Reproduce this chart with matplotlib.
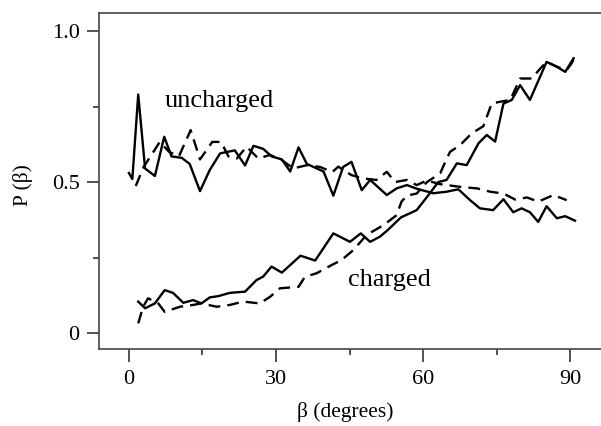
import numpy as np
import matplotlib
matplotlib.use("Agg")
import matplotlib.pyplot as plt
from matplotlib.ticker import MultipleLocator

plt.rcParams['font.family'] = ['Liberation Serif', 'DejaVu Serif']

# uncharged, solid
unc_solid_x = [0.0, 0.7, 1.9, 3.3, 5.3, 7.2, 8.7, 10.8, 12.4, 14.5, 16.5, 18.6, 21.6, 23.7,
               25.4, 27.4, 29.1, 31.2, 32.9, 34.6, 36.3, 39.7, 41.7, 43.7, 45.4, 47.5, 49.2,
               52.6, 54.6, 56.7, 58.7, 60.5, 62.1, 64.8, 67.2, 69.6, 71.6, 74.3, 76.4, 78.4,
               80.1, 81.8, 83.5, 85.2, 87.3, 89.0, 91.0]
unc_solid_y = [0.53, 0.51, 0.79, 0.545, 0.52, 0.65, 0.585, 0.58, 0.56, 0.47, 0.54, 0.595, 0.605,
               0.555, 0.62, 0.61, 0.585, 0.575, 0.535, 0.615, 0.56, 0.535, 0.455, 0.55, 0.567,
               0.473, 0.507, 0.457, 0.479, 0.49, 0.478, 0.47, 0.463, 0.468, 0.476, 0.44, 0.413,
               0.407, 0.443, 0.40, 0.413, 0.40, 0.368, 0.42, 0.38, 0.387, 0.372]

# uncharged, dashed
unc_dash_x = [1.4, 3.0, 5.0, 6.3, 8.2, 10.2, 12.6, 14.5, 17.0, 18.8, 20.3, 22.0, 24.0, 26.4,
              28.8, 31.2, 33.5, 36.3, 39.0, 41.5, 42.7, 45.4, 47.8, 50.5, 52.6, 54.3, 56.7,
              58.7, 60.8, 63.5, 67.6, 71.0, 73.7, 76.4, 78.8, 81.2, 83.5, 86.6, 89.3]
unc_dash_y = [0.487, 0.55, 0.60, 0.633, 0.60, 0.585, 0.672, 0.575, 0.633, 0.633, 0.585, 0.578,
              0.617, 0.578, 0.59, 0.573, 0.545, 0.556, 0.55, 0.533, 0.551, 0.523, 0.512, 0.507,
              0.534, 0.50, 0.507, 0.49, 0.505, 0.493, 0.484, 0.479, 0.468, 0.462, 0.442, 0.449,
              0.435, 0.457, 0.44]

# charged, solid
chg_solid_x = [1.9, 3.3, 5.3, 7.3, 9.0, 11.1, 13.1, 14.8, 16.5, 18.2, 20.6, 23.7, 26.0, 27.4,
               29.1, 31.2, 35.0, 38.0, 41.7, 45.1, 47.3, 49.2, 51.2, 52.8, 55.5, 58.7, 61.4,
               63.1, 64.8, 66.9, 68.9, 71.3, 73.0, 74.7, 76.4, 78.1, 79.8, 81.8, 85.2, 87.3,
               89.0, 90.7]
chg_solid_y = [0.104, 0.082, 0.098, 0.142, 0.133, 0.10, 0.109, 0.098, 0.118, 0.122, 0.133, 0.137,
               0.175, 0.187, 0.22, 0.20, 0.256, 0.24, 0.33, 0.302, 0.33, 0.302, 0.319, 0.341,
               0.383, 0.407, 0.463, 0.50, 0.507, 0.562, 0.556, 0.628, 0.656, 0.634, 0.76, 0.772,
               0.821, 0.772, 0.898, 0.882, 0.865, 0.91]

# charged, dashed
chg_dash_x = [1.9, 2.9, 3.9, 6.0, 7.3, 10.4, 13.1, 14.8, 17.9, 20.6, 23.3, 26.7, 28.8, 30.8,
              34.6, 35.9, 38.3, 41.0, 43.4, 45.8, 48.5, 51.9, 54.6, 55.6, 56.7, 58.7, 60.8,
              63.5, 64.4, 65.5, 67.6, 69.9, 72.3, 74.0, 75.7, 77.8, 79.8, 82.2, 83.9, 85.2,
              87.3, 89.3, 90.3, 91.0]
chg_dash_y = [0.032, 0.087, 0.115, 0.098, 0.07, 0.087, 0.093, 0.098, 0.087, 0.093, 0.104, 0.098,
              0.12, 0.148, 0.153, 0.186, 0.198, 0.222, 0.242, 0.275, 0.325, 0.357, 0.39, 0.435,
              0.455, 0.462, 0.50, 0.529, 0.562, 0.60, 0.623, 0.661, 0.685, 0.76, 0.766, 0.772,
              0.843, 0.843, 0.876, 0.898, 0.882, 0.871, 0.893, 0.915]

fig = plt.figure(figsize=(6.01, 4.26), dpi=100)
ax = fig.add_axes([99 / 601, 77 / 426, 1 - 99 / 601, 336 / 426])

lw = 1.7
dash = (0, (5, 3))
ax.plot(unc_solid_x, unc_solid_y, color='black', lw=lw)
ax.plot(unc_dash_x, unc_dash_y, color='black', lw=lw, linestyle=dash)
ax.plot(chg_solid_x, chg_solid_y, color='black', lw=lw)
ax.plot(chg_dash_x, chg_dash_y, color='black', lw=lw, linestyle=dash)

# curve labels
ax.text(18.4, 0.768, 'uncharged', fontsize=19, ha='center', va='center')
ax.text(53.2, 0.175, 'charged', fontsize=19, ha='center', va='center')

ax.set_xlim(-6.1, 96.3)
ax.set_ylim(-0.053, 1.06)

ax.xaxis.set_major_locator(MultipleLocator(30))
ax.xaxis.set_minor_locator(MultipleLocator(15))
ax.set_yticks([0, 0.5, 1.0])
ax.set_yticklabels(['0', '0.5', '1.0'])
ax.yaxis.set_minor_locator(MultipleLocator(0.25))

ax.tick_params(which='major', direction='out', length=9, width=1.2, labelsize=16,
               color='#333333')
ax.tick_params(axis='x', which='major', pad=6)
ax.tick_params(axis='y', which='major', pad=5)
ax.tick_params(which='minor', direction='out', length=4, width=1.2, color='#333333')
ax.spines['right'].set_visible(False)
for s in ['left', 'top', 'bottom']:
    ax.spines[s].set_color('#444444')
    ax.spines[s].set_linewidth(1.2)

ax.set_xlabel('β (degrees)', fontsize=15.5, va='center')
ax.set_ylabel('P (β)', fontsize=15.5, va='center')
ax.xaxis.set_label_coords(0.49, -0.188)
ax.yaxis.set_label_coords(-0.152, 0.488)

fig.savefig('out.png', dpi=100)
